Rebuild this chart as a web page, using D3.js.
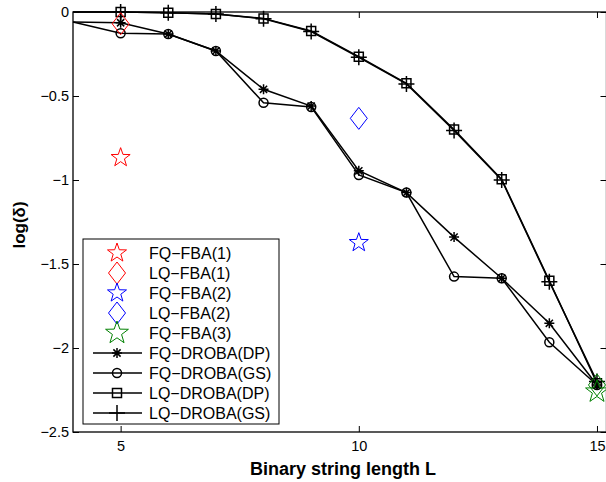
<!DOCTYPE html>
<meta charset="utf-8">
<style>
body { margin: 0; background: #fff; }
text { font-family: "Liberation Sans", Arial, sans-serif; }
.series { fill: none; stroke: #000; stroke-width: 1.5px; }
</style>
<body>
<script src="https://d3js.org/d3.v7.min.js"></script>
<script>

// data
var lengths = [4, 5, 6, 7, 8, 9, 10, 11, 12, 13, 14, 15];
var fqDP = [-0.06, -0.064, -0.131, -0.232, -0.46, -0.56, -0.945, -1.075, -1.34, -1.585, -1.853, -2.22];
var fqGS = [-0.06, -0.127, -0.131, -0.232, -0.54, -0.565, -0.97, -1.075, -1.575, -1.585, -1.966, -2.22];
var lqDP = [0, 0, -0.004, -0.012, -0.038, -0.113, -0.266, -0.424, -0.70, -0.996, -1.60, -2.21];
var lqGS = [0, 0, -0.004, -0.012, -0.04, -0.116, -0.27, -0.428, -0.705, -1.0, -1.605, -2.20];

var fbaNames = ["FQ\u2212FBA(1)", "LQ\u2212FBA(1)", "FQ\u2212FBA(2)", "LQ\u2212FBA(2)", "FQ\u2212FBA(3)", "LQ\u2212FBA(3)"];
var fbaL = [5, 5, 10, 10, 15, 15];
var fbaValues = [-0.867, -0.07, -1.373, -0.633, -2.26, -2.22];

var drobaNames = ["FQ\u2212DROBA(DP)", "FQ\u2212DROBA(GS)", "LQ\u2212DROBA(DP)", "LQ\u2212DROBA(GS)"];

var xTicks = [5, 10, 15];
var yTicks = [-2.5, -2, -1.5, -1, -0.5, 0];

// sizes
var width = 606, height = 482;

var svg = d3.select("body").append("svg")
  .attr("width", width)
  .attr("height", height);

var x = d3.scaleLinear().domain([4, 15.2]).range([73, 606.5]);
var y = d3.scaleLinear().domain([-2.5, 0]).range([432, 12]);

// marker shapes
function starPath(r) {
  var pts = [];
  for (var i = 0; i < 10; i++) {
    var rr = i % 2 ? r * 0.4 : r;
    var a = -Math.PI / 2 + i * Math.PI / 5;
    pts.push([rr * Math.cos(a), rr * Math.sin(a)]);
  }
  return "M" + pts.map(function(p) { return p[0].toFixed(2) + "," + p[1].toFixed(2); }).join("L") + "Z";
}
function diamondPath(w, h) {
  return "M0," + (-h) + "L" + w + ",0L0," + h + "L" + (-w) + ",0Z";
}
function asteriskPath(r) {
  var d = r * 0.72;
  return "M" + (-r) + ",0L" + r + ",0M0," + (-r) + "L0," + r +
    "M" + (-d) + "," + (-d) + "L" + d + "," + d + "M" + (-d) + "," + d + "L" + d + "," + (-d);
}
function circlePath(r) {
  return "M" + r + ",0A" + r + "," + r + " 0 1,1 " + (-r) + ",0A" + r + "," + r + " 0 1,1 " + r + ",0";
}
function squarePath(r) {
  return "M" + (-r) + "," + (-r) + "H" + r + "V" + r + "H" + (-r) + "Z";
}
function plusPath(r) {
  return "M" + (-r) + ",0H" + r + "M0," + (-r) + "V" + r;
}

var fbaShapes = [starPath(10), diamondPath(8.5, 11), starPath(10), diamondPath(8.5, 11), starPath(12), diamondPath(8.5, 11)];
var fbaColors = ["#ff0000", "#ff0000", "#0000ff", "#0000ff", "#008000", "#008000"];
var drobaShapes = [asteriskPath(5), circlePath(4.5), squarePath(4.5), plusPath(8)];
var drobaSeries = [fqDP, fqGS, lqDP, lqGS];

var fmt = function(d) { return d3.format("")(d).replace("-", "\u2212"); };

// axes (ticks inside, MATLAB style)
svg.append("g")
  .attr("transform", "translate(0," + y(-2.5) + ")")
  .call(d3.axisBottom(x).tickValues(xTicks).tickSize(-6).tickPadding(9).tickFormat(d3.format("d")))
  .call(function(g) { g.select(".domain").remove(); });
svg.append("g")
  .attr("transform", "translate(0," + y(0) + ")")
  .call(d3.axisTop(x).tickValues(xTicks).tickSize(-6).tickFormat(""))
  .call(function(g) { g.select(".domain").remove(); });
svg.append("g")
  .attr("transform", "translate(" + x(4) + ",0)")
  .call(d3.axisLeft(y).tickValues(yTicks).tickSize(-6).tickPadding(4).tickFormat(fmt))
  .call(function(g) { g.select(".domain").remove(); });
svg.append("g")
  .attr("transform", "translate(" + x(15.2) + ",0)")
  .call(d3.axisRight(y).tickValues(yTicks).tickSize(-6).tickFormat(""))
  .call(function(g) { g.select(".domain").remove(); });

svg.selectAll(".tick text").attr("font-size", "14.5px").attr("fill", "#000")
  .style("font-family", "'Liberation Sans', Arial, sans-serif");
svg.selectAll(".tick line").attr("stroke", "#000");

svg.append("rect")
  .attr("x", x(4)).attr("y", y(0))
  .attr("width", x(15.2) - x(4)).attr("height", y(-2.5) - y(0))
  .attr("fill", "none").attr("stroke", "#000").attr("stroke-width", 1.3);

// DROBA lines
var line = d3.line()
  .x(function(d, i) { return x(lengths[i]); })
  .y(function(d) { return y(d); });

drobaSeries.forEach(function(vals, k) {
  svg.append("path").attr("class", "series").attr("d", line(vals));
});
drobaSeries.forEach(function(vals, k) {
  svg.append("g").selectAll("path")
    .data(vals.map(function(v, i) { return {L: lengths[i], v: v}; }).filter(function(d) { return d.L >= 5; }))
    .enter().append("path")
    .attr("d", drobaShapes[k])
    .attr("transform", function(d) { return "translate(" + x(d.L) + "," + y(d.v) + ")"; })
    .attr("fill", "none").attr("stroke", "#000").attr("stroke-width", 1.5);
});

// FBA points
fbaValues.forEach(function(v, i) {
  svg.append("path")
    .attr("d", fbaShapes[i])
    .attr("transform", "translate(" + x(fbaL[i]) + "," + y(v) + ")")
    .attr("fill", "none").attr("stroke", fbaColors[i]).attr("stroke-width", 1);
});

// legend
var lg = svg.append("g").attr("transform", "translate(83,239)");
lg.append("rect").attr("width", 196).attr("height", 185)
  .attr("fill", "#fff").attr("stroke", "#000").attr("stroke-width", 1);
var rowH = 20, row0 = 14;
fbaNames.slice(0, 5).forEach(function(name, i) {
  var ry = row0 + i * rowH;
  lg.append("path").attr("d", fbaShapes[i])
    .attr("transform", "translate(34," + ry + ")")
    .attr("fill", "none").attr("stroke", fbaColors[i]).attr("stroke-width", 1);
  lg.append("text").attr("x", 66).attr("y", ry + 5.5).attr("font-size", "16px").text(name);
});
drobaNames.forEach(function(name, k) {
  var ry = row0 + (5 + k) * rowH;
  lg.append("line").attr("x1", 10).attr("x2", 59).attr("y1", ry).attr("y2", ry)
    .attr("stroke", "#000").attr("stroke-width", 1.5);
  lg.append("path").attr("d", k === 3 ? plusPath(8) : drobaShapes[k])
    .attr("transform", "translate(34," + ry + ")")
    .attr("fill", "none").attr("stroke", "#000").attr("stroke-width", 1.5);
  lg.append("text").attr("x", 66).attr("y", ry + 5.5).attr("font-size", "16px").text(name);
});

// axis titles
svg.append("text")
  .attr("x", 343).attr("y", 475)
  .attr("text-anchor", "middle")
  .attr("font-size", "18px").attr("font-weight", "bold")
  .text("Binary string length L");

svg.append("text")
  .attr("transform", "translate(25,225) rotate(-90)")
  .attr("text-anchor", "middle")
  .attr("font-size", "17px").attr("font-weight", "bold")
  .text("log(\u03b4)");

</script>
</body>
